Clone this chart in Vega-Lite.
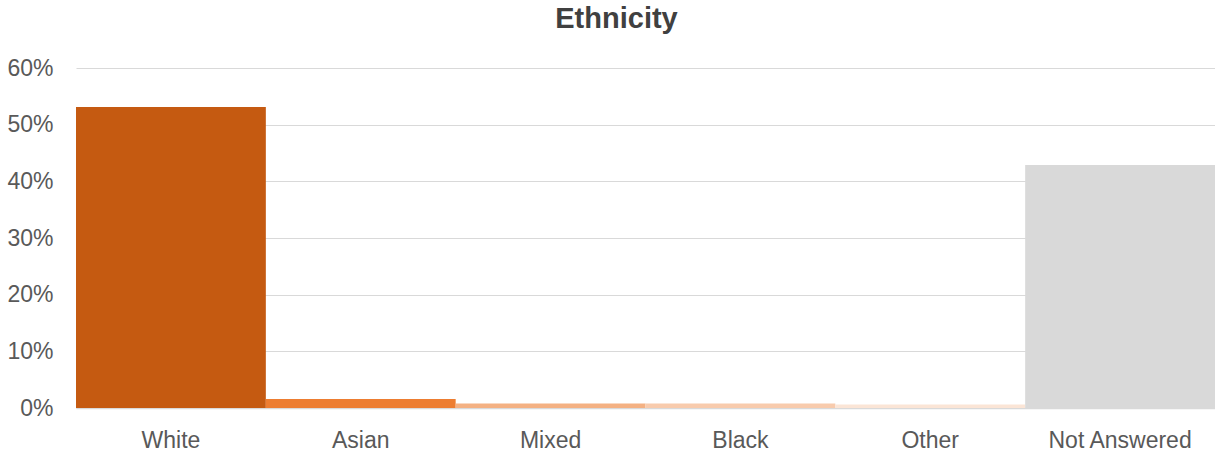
{
  "$schema": "https://vega.github.io/schema/vega-lite/v6.json",
  "autosize": "none",
  "width": 1139,
  "height": 340,
  "padding": {"left": 76, "top": 68, "right": 0, "bottom": 47},
  "background": "white",
  "title": {
    "text": "Ethnicity",
    "font": "Liberation Sans",
    "fontSize": 29,
    "fontWeight": "bold",
    "color": "#404040",
    "anchor": "middle",
    "frame": "group",
    "dx": -29,
    "baseline": "alphabetic",
    "offset": 0
  },
  "data": {
    "values": [
      {"ethnicity": "White", "share": 0.531},
      {"ethnicity": "Asian", "share": 0.016},
      {"ethnicity": "Mixed", "share": 0.008},
      {"ethnicity": "Black", "share": 0.008},
      {"ethnicity": "Other", "share": 0.006},
      {"ethnicity": "Not Answered", "share": 0.429}
    ]
  },
  "mark": {"type": "bar"},
  "encoding": {
    "x": {
      "field": "ethnicity",
      "type": "nominal",
      "sort": null,
      "scale": {"paddingInner": 0, "paddingOuter": 0},
      "axis": {
        "title": null,
        "labelAngle": 0,
        "labelFont": "Liberation Sans",
        "labelFontSize": 23,
        "labelColor": "#595959",
        "labelPadding": 21,
        "ticks": false,
        "domainColor": "#D9D9D9",
        "domainWidth": 1.5,
        "grid": false
      }
    },
    "y": {
      "field": "share",
      "type": "quantitative",
      "scale": {"domain": [0, 0.6], "nice": false},
      "axis": {
        "title": null,
        "format": ".0%",
        "values": [0, 0.1, 0.2, 0.3, 0.4, 0.5, 0.6],
        "labelFont": "Liberation Sans",
        "labelFontSize": 23,
        "labelColor": "#595959",
        "labelPadding": 23,
        "ticks": false,
        "domain": false,
        "grid": true,
        "gridColor": "#D9D9D9",
        "gridWidth": 1
      }
    },
    "color": {
      "field": "ethnicity",
      "type": "nominal",
      "sort": null,
      "scale": {
        "domain": ["White", "Asian", "Mixed", "Black", "Other", "Not Answered"],
        "range": ["#C55A11", "#ED7D31", "#F4B183", "#F8CBAD", "#FBE5D6", "#D9D9D9"]
      },
      "legend": null
    }
  },
  "config": {"view": {"stroke": null}}
}
